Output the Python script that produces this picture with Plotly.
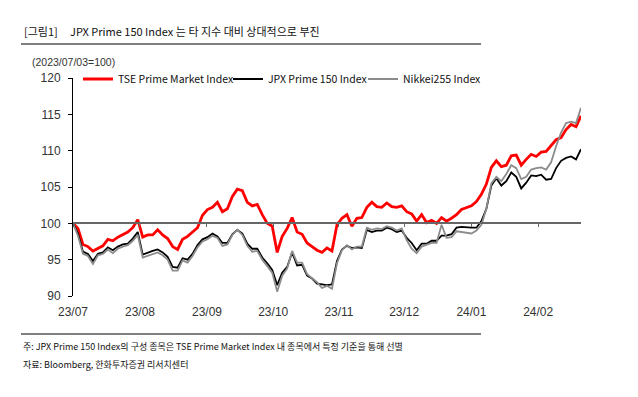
import plotly.graph_objects as go

# ---- data ----
tse_prime = [100.0, 99.3, 97.1, 96.8, 96.2, 96.6, 96.9, 97.8, 97.6, 98.1,
             98.4, 98.8, 99.4, 100.5, 98.1, 98.4, 98.4, 99.1, 98.4, 97.9,
             96.8, 96.4, 97.8, 98.2, 98.8, 99.4, 101.1, 101.9, 102.2, 102.9,
             101.6, 102.0, 103.7, 104.7, 104.5, 102.9, 102.4, 102.6, 101.2, 100.0,
             99.6, 96.0, 98.2, 99.3, 100.8, 98.8, 98.5, 97.3, 96.8, 96.3,
             96.0, 96.6, 96.2, 99.8, 100.7, 101.2, 99.6, 100.7, 100.8, 102.2,
             102.9, 102.3, 102.2, 102.8, 102.3, 102.2, 102.4, 101.6, 101.3, 100.3,
             101.2, 100.1, 100.4, 100.0, 100.8, 100.3, 100.7, 101.2, 101.9, 102.2,
             102.4, 103.0, 104.0, 105.4, 107.7, 108.6, 107.8, 108.0, 109.3, 109.4,
             108.0, 108.8, 109.5, 109.2, 109.8, 109.9, 110.7, 111.5, 111.8, 112.9,
             113.6, 113.3, 114.8]

jpx_prime150 = [100.0, 98.6, 96.1, 95.8, 94.8, 95.8, 96.0, 96.7, 96.3, 96.8,
                97.1, 97.2, 97.9, 98.8, 95.7, 96.0, 96.2, 96.4, 96.0, 95.4,
                94.0, 93.9, 95.2, 95.0, 95.8, 97.0, 97.8, 98.1, 98.6, 98.2,
                97.3, 97.3, 98.5, 99.1, 98.6, 97.2, 96.5, 96.5, 95.3, 94.5,
                93.6, 91.5, 93.2, 94.0, 96.0, 94.2, 94.3, 92.8, 92.4, 91.7,
                91.6, 91.5, 91.6, 94.8, 96.4, 96.9, 96.6, 96.7, 96.6, 99.1,
                98.8, 99.0, 99.0, 99.4, 99.2, 98.8, 99.0, 98.0, 97.3, 96.3,
                97.2, 97.2, 97.6, 97.6, 98.3, 98.3, 98.5, 99.4, 99.5, 99.4,
                99.4, 99.4, 100.3, 102.0, 105.2, 106.2, 105.2, 105.8, 107.0, 106.4,
                104.8, 105.6, 106.6, 106.5, 106.7, 106.0, 106.1, 107.6, 108.6, 109.0,
                109.2, 108.8, 110.2]

nikkei225 = [100.0, 98.3, 95.8, 95.5, 94.4, 95.6, 95.8, 96.4, 95.9, 96.5,
             96.8, 97.0, 97.6, 98.4, 95.3, 95.5, 95.8, 96.0, 95.6, 95.0,
             93.5, 93.5, 94.9, 94.6, 95.5, 96.7, 97.5, 97.8, 98.3, 98.0,
             96.9, 97.1, 98.4, 99.1, 98.4, 96.9, 96.1, 96.2, 95.0, 94.1,
             93.2, 90.6, 92.8, 93.8, 96.2, 94.6, 94.6, 93.0, 92.5, 91.9,
             91.1, 91.4, 91.0, 94.5, 96.3, 97.0, 96.4, 96.8, 96.8, 99.4,
             99.1, 99.3, 99.2, 99.6, 99.4, 99.0, 99.3, 97.7, 96.5, 95.9,
             96.8, 97.0, 97.3, 97.3, 99.8, 98.0, 98.1, 98.9, 98.8, 98.6,
             98.6, 99.0, 99.8, 102.0, 105.5, 106.4, 105.8, 106.8, 108.0, 107.6,
             106.1, 106.4, 107.4, 107.6, 107.7, 107.4, 108.4, 110.6, 112.5, 113.8,
             114.0, 113.8, 115.9]

series_names = ["TSE Prime Market Index", "JPX Prime 150 Index", "Nikkei255 Index"]
tick_labels = ["23/07", "23/08", "23/09", "23/10", "23/11", "23/12", "24/01", "24/02"]
tick_pos = [0, 13.45, 26.9, 40.2, 53.4, 66.5, 80.0, 93.4]
y_ticks = [90, 95, 100, 105, 110, 115, 120]
base_value = 100

x_index = list(range(len(tse_prime)))

KR = "Noto Sans CJK KR, sans-serif"
TICKF = "Liberation Sans, Arial, sans-serif"

fig = go.Figure()

# invisible trace carrying the baseline axis (x2) at the 100 level
fig.add_trace(go.Scatter(x=[x_index[0], x_index[-1]], y=[base_value, base_value],
                         xaxis="x2", yaxis="y", mode="lines",
                         line=dict(width=0, color="rgba(0,0,0,0)"),
                         showlegend=False, hoverinfo="skip"))

fig.add_trace(go.Scatter(x=x_index, y=tse_prime, mode="lines", name=series_names[0],
                         line=dict(color="#ff0000", width=2.8), legend="legend"))
fig.add_trace(go.Scatter(x=x_index, y=jpx_prime150, mode="lines", name=series_names[1],
                         line=dict(color="#000000", width=1.8), legend="legend2"))
fig.add_trace(go.Scatter(x=x_index, y=nikkei225, mode="lines", name=series_names[2],
                         line=dict(color="#8c8c8c", width=1.8), legend="legend3"))

L, R, T, B = 73, 57, 78, 101
W, H = 638, 397
pw, ph = W - L - R, H - T - B

def px(xp):
    return (xp - L) / pw

def py(yp):
    return (H - B - yp) / ph

legend_common = dict(orientation="h", yanchor="middle", xanchor="left",
                     bgcolor="rgba(0,0,0,0)", borderwidth=0,
                     font=dict(family=KR, size=10.5, color="#111111"),
                     itemwidth=30, tracegroupgap=0)

fig.update_layout(
    width=W, height=H,
    margin=dict(l=L, r=R, t=T, b=B, pad=0),
    plot_bgcolor="white", paper_bgcolor="white",
    showlegend=True,
    legend=dict(x=px(78), y=py(79), **legend_common),
    legend2=dict(x=px(228), y=py(79), **legend_common),
    legend3=dict(x=px(363), y=py(79), **legend_common),
    xaxis=dict(range=[x_index[0], x_index[-1]], showgrid=False, zeroline=False,
               showline=False, ticks="", tickvals=tick_pos, ticktext=tick_labels,
               ticklabelstandoff=7,
               tickfont=dict(family=TICKF, size=12, color="#333333")),
    xaxis2=dict(overlaying="x", matches="x", anchor="free", position=(base_value - 90) / 30,
                side="bottom", showgrid=False, zeroline=False, showline=True,
                linecolor="#666666", linewidth=1.5, ticks="outside", ticklen=3,
                tickcolor="#666666", tickwidth=1, tickvals=tick_pos,
                showticklabels=False),
    yaxis=dict(range=[90, 120], tickvals=y_ticks, showgrid=False, zeroline=False,
               showline=True, linecolor="#000000", linewidth=1, ticks="outside",
               ticklen=4, tickcolor="#000000", ticklabelstandoff=5,
               tickfont=dict(family=TICKF, size=12, color="#333333")),
)

# title and notes
fig.add_annotation(x=px(22), y=py(31), xref="paper", yref="paper", text="[그림1]",
                   showarrow=False, xanchor="left", yanchor="middle",
                   font=dict(family=KR, size=11, color="#111111"))
fig.add_annotation(x=px(68), y=py(31), xref="paper", yref="paper",
                   text="JPX Prime 150 Index 는 타 지수 대비 상대적으로 부진",
                   showarrow=False, xanchor="left", yanchor="middle",
                   font=dict(family=KR, size=11, color="#111111"))
fig.add_annotation(x=px(30), y=py(62), xref="paper", yref="paper",
                   text="(2023/07/03=100)", showarrow=False, xanchor="left",
                   yanchor="middle", font=dict(family=TICKF, size=10.5, color="#333333"))
fig.add_annotation(x=px(21), y=py(346), xref="paper", yref="paper",
                   text="주: JPX Prime 150 Index의 구성 종목은 TSE Prime Market Index 내 종목에서 특정 기준을 통해 선별",
                   showarrow=False, xanchor="left", yanchor="middle",
                   font=dict(family=KR, size=9, color="#111111"))
fig.add_annotation(x=px(21), y=py(364), xref="paper", yref="paper",
                   text="자료: Bloomberg, 한화투자증권 리서치센터",
                   showarrow=False, xanchor="left", yanchor="middle",
                   font=dict(family=KR, size=9, color="#111111"))

for yy in (44, 334):
    fig.add_shape(type="line", xref="paper", yref="paper", x0=px(21), x1=px(481),
                  y0=py(yy), y1=py(yy), line=dict(color="#000000", width=1.2))

fig.write_html("out.html", config={"displayModeBar": False},
               post_script="document.body.style.margin='0';document.body.style.padding='0';")
